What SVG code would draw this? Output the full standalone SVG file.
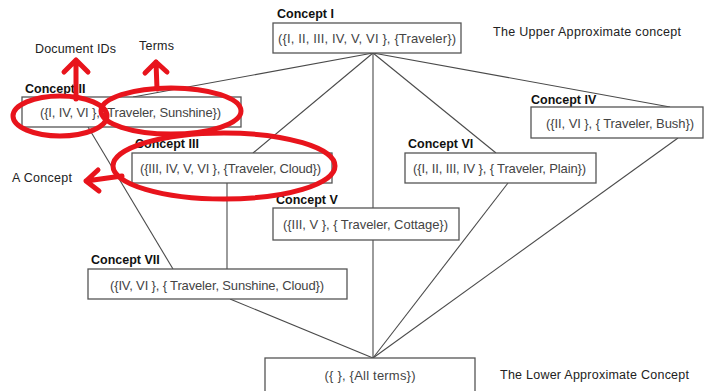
<svg xmlns="http://www.w3.org/2000/svg" width="706" height="391" viewBox="0 0 706 391">
<defs>
<style>
.box{fill:#fff;stroke:#555;stroke-width:1.3}
.lbl{font-family:"Liberation Sans",Arial,sans-serif;font-weight:bold;font-size:12.5px;fill:#111}
.txt{font-family:"Liberation Sans",Arial,sans-serif;font-size:13px;fill:#444}
.note{font-family:"Liberation Sans",Arial,sans-serif;font-size:12.5px;fill:#222}
.edge{stroke:#4a4a4a;stroke-width:1.1;fill:none}
.red{stroke:#e8141c;stroke-width:5;fill:none;stroke-linecap:round;stroke-linejoin:round}
</style>
</defs>
<rect width="706" height="391" fill="#fff"/>
<g id="connectors">
<line class="edge" x1="373" y1="53" x2="133" y2="97"/>
<line class="edge" x1="373" y1="53" x2="253" y2="153"/>
<line class="edge" x1="373" y1="53" x2="373" y2="208"/>
<line class="edge" x1="373" y1="53" x2="496" y2="153"/>
<line class="edge" x1="373" y1="53" x2="670" y2="107"/>
<line class="edge" x1="88" y1="127" x2="173" y2="269"/>
<line class="edge" x1="227" y1="183" x2="227" y2="269"/>
<line class="edge" x1="373" y1="240" x2="373" y2="358"/>
<line class="edge" x1="230" y1="299" x2="373" y2="358"/>
<line class="edge" x1="508" y1="183" x2="373" y2="358"/>
<line class="edge" x1="678" y1="138" x2="373" y2="358"/>
</g>
<g id="concept1">
<text class="lbl" x="277" y="18">Concept I</text>
<rect class="box" x="273" y="23" width="188" height="30"/>
<text class="txt" x="367" y="43" text-anchor="middle" textLength="178">({I, II, III, IV, V, VI }, {Traveler})</text>
</g>
<g id="concept2">
<text class="lbl" x="25" y="93">Concept II</text>
<rect class="box" x="22" y="97" width="219" height="30"/>
<text class="txt" x="40" y="117" textLength="181">({I, IV, VI }, {Traveler, Sunshine})</text>
</g>
<g id="concept3">
<text class="lbl" x="135" y="148">Concept III</text>
<rect class="box" x="132" y="153" width="200" height="30"/>
<text class="txt" x="140" y="173" textLength="181">({III, IV, V, VI }, {Traveler, Cloud})</text>
</g>
<g id="concept4">
<text class="lbl" x="531" y="104">Concept IV</text>
<rect class="box" x="531" y="107" width="172" height="31"/>
<text class="txt" x="546" y="128" textLength="148">({II, VI }, { Traveler, Bush})</text>
</g>
<g id="concept5">
<text class="lbl" x="276" y="204">Concept V</text>
<rect class="box" x="273" y="208" width="186" height="32"/>
<text class="txt" x="283" y="229" textLength="165">({III, V }, { Traveler, Cottage})</text>
</g>
<g id="concept6">
<text class="lbl" x="408" y="148">Concept VI</text>
<rect class="box" x="405" y="153" width="191" height="30"/>
<text class="txt" x="413" y="173" textLength="173">({I, II, III, IV }, { Traveler, Plain})</text>
</g>
<g id="concept7">
<text class="lbl" x="91" y="264">Concept VII</text>
<rect class="box" x="88" y="269" width="259" height="30"/>
<text class="txt" x="110" y="290" textLength="214">({IV, VI }, { Traveler, Sunshine, Cloud})</text>
</g>
<g id="bottom">
<rect class="box" x="265" y="358" width="210" height="34"/>
<text class="txt" x="370" y="380" text-anchor="middle" textLength="91">({ }, {All terms})</text>
</g>
<g id="notes">
<text class="note" x="493" y="36" textLength="188">The Upper Approximate concept</text>
<text class="note" x="500" y="379" textLength="189">The Lower Approximate Concept</text>
<text class="note" x="35" y="53" textLength="81">Document IDs</text>
<text class="note" x="139" y="50" textLength="35">Terms</text>
<text class="note" x="12" y="182" textLength="60">A Concept</text>
</g>
<g id="annotations">
<ellipse class="red" cx="60" cy="116" rx="47" ry="20"/>
<ellipse class="red" cx="171" cy="111" rx="70" ry="23"/>
<ellipse class="red" cx="224" cy="166" rx="111" ry="33"/>
<path class="red" d="M76 99 L76 60 M64 72 L76 60 L88 72"/>
<path class="red" d="M157 89 L156 62 M145 73 L156 62 L167 72"/>
<path class="red" d="M122 176 L86 181 M98 170 L86 181 L99 191"/>
</g>
</svg>
